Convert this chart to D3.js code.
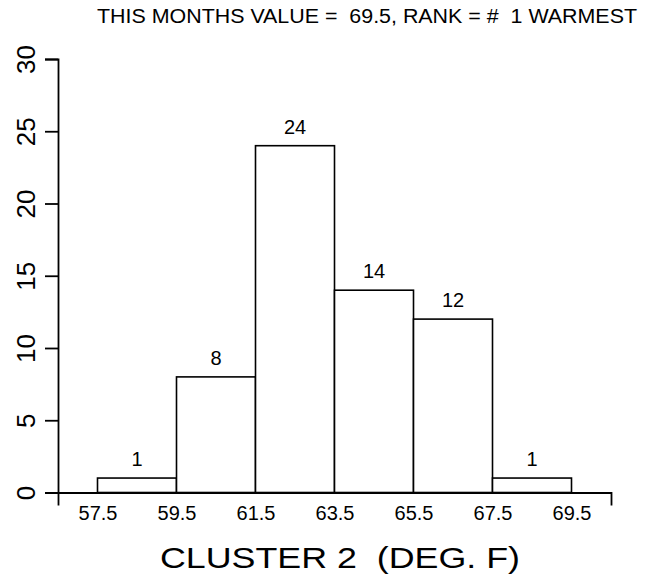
<!DOCTYPE html>
<html><head><meta charset="utf-8">
<script src="https://cdn.jsdelivr.net/npm/d3@7"></script>
<style>body{margin:0;background:#fff}</style>
</head><body>
<svg id="chart" width="652" height="588"></svg>
<script>
const binEdges = [57.5, 59.5, 61.5, 63.5, 65.5, 67.5, 69.5];
const counts = [1, 8, 24, 14, 12, 1];
const xTicks = [57.5, 59.5, 61.5, 63.5, 65.5, 67.5, 69.5];
const yTicks = [0, 5, 10, 15, 20, 25, 30];
const titleText = "THIS MONTHS VALUE =  69.5, RANK = #  1 WARMEST";
const xLabel = "CLUSTER 2  (DEG. F)";

const FONT = "'Liberation Sans', Arial, sans-serif";
const svg = d3.select("#chart");
const x = d3.scaleLinear().domain([56.5, 70.5]).range([58, 611]);
const y = d3.scaleLinear().domain([0, 30]).range([492.5, 59]);

const bins = counts.map((c, i) => ({ x0: binEdges[i], x1: binEdges[i + 1], c }));

svg.append("g").selectAll("rect").data(bins).join("rect")
  .attr("x", d => x(d.x0))
  .attr("y", d => y(d.c))
  .attr("width", d => x(d.x1) - x(d.x0))
  .attr("height", d => y(0) - y(d.c))
  .attr("fill", "#fff").attr("stroke", "#000").attr("stroke-width", 1.6);

svg.append("g").selectAll("text").data(bins).join("text")
  .attr("x", d => (x(d.x0) + x(d.x1)) / 2)
  .attr("y", d => y(d.c) - 12)
  .attr("text-anchor", "middle")
  .attr("font-family", FONT).attr("font-size", 20)
  .attr("fill", "#000")
  .text(d => d.c);

const xAxis = svg.append("g").attr("transform", `translate(0,${y(0)})`)
  .call(d3.axisBottom(x).tickValues(xTicks).tickSizeInner(0).tickSizeOuter(13)
    .tickPadding(13).tickFormat(d3.format(".1f")));
xAxis.select(".domain").attr("stroke-width", 1.8);
xAxis.selectAll("text").attr("font-family", FONT).attr("font-size", 20).attr("fill", "#000");

const yAxis = svg.append("g").attr("transform", `translate(${x(56.5)},0)`)
  .call(d3.axisLeft(y).tickValues(yTicks).tickSize(13).tickFormat(d3.format("d")));
yAxis.select(".domain").attr("stroke-width", 1.8);
yAxis.selectAll(".tick line").attr("stroke-width", 1.8);
yAxis.selectAll("text")
  .attr("font-family", FONT).attr("font-size", 26).attr("fill", "#000")
  .attr("text-anchor", "middle")
  .attr("x", 0).attr("y", -32).attr("dy", "0.35em")
  .attr("transform", "rotate(-90)");

svg.append("text")
  .attr("x", 367).attr("y", 23)
  .attr("text-anchor", "middle")
  .attr("font-family", FONT).attr("font-size", 20)
  .attr("textLength", 540).attr("lengthAdjust", "spacingAndGlyphs")
  .attr("xml:space", "preserve").style("white-space", "pre")
  .text(titleText);

svg.append("text")
  .attr("x", 340).attr("y", 568)
  .attr("text-anchor", "middle")
  .attr("font-family", FONT).attr("font-size", 30)
  .attr("textLength", 360).attr("lengthAdjust", "spacingAndGlyphs")
  .style("white-space", "pre")
  .text(xLabel);
</script>
</body></html>
